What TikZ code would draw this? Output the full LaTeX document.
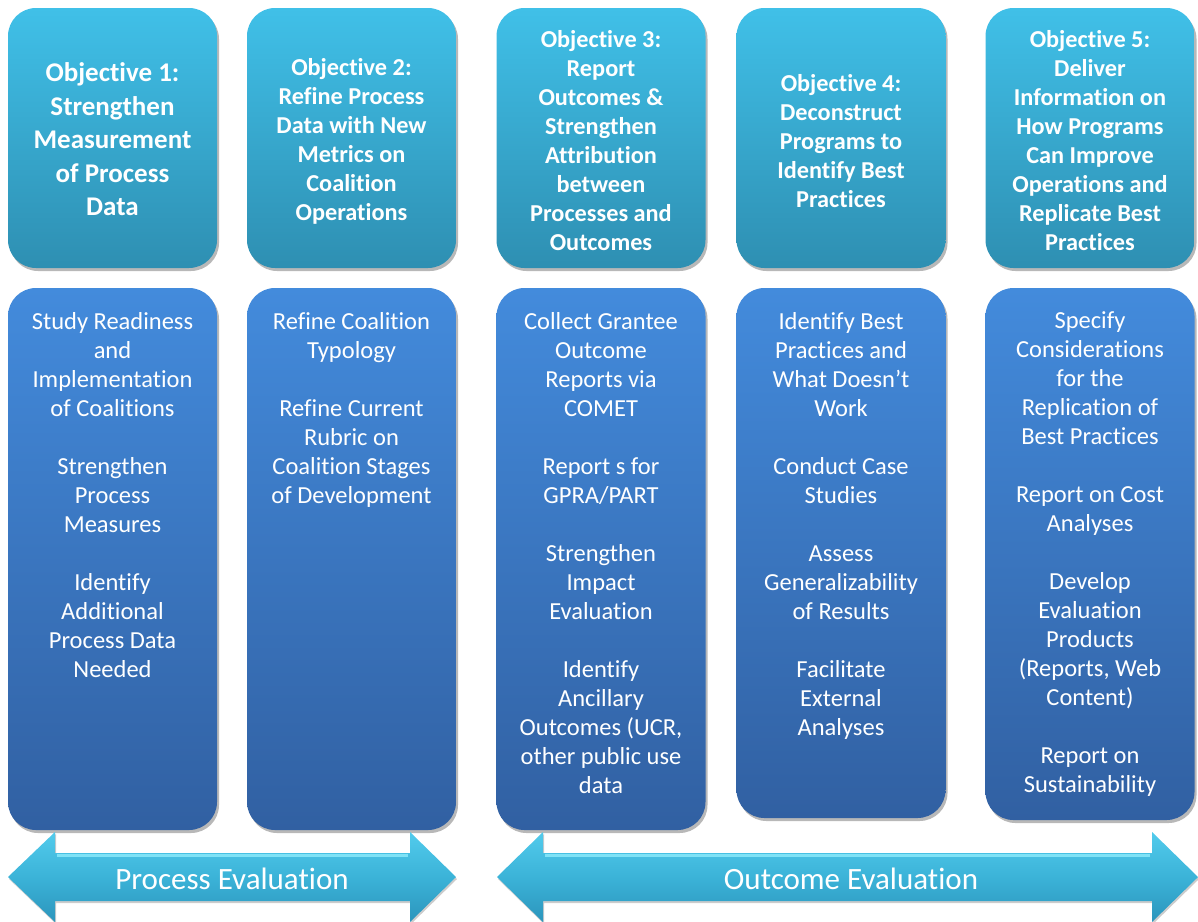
\documentclass[tikz,border=0pt]{standalone}
\usepackage{fontspec}
\setmainfont{Carlito}[Ligatures=NoCommon]
\usetikzlibrary{shadows}

\definecolor{objtop}{HTML}{40C0E8}
\definecolor{objbot}{HTML}{2E8FB2}
\definecolor{acttop}{HTML}{438BDC}
\definecolor{actbot}{HTML}{3160A2}
\definecolor{arrtop}{HTML}{52CBEC}
\definecolor{arrmid}{HTML}{3BB3D8}
\definecolor{arrbot}{HTML}{2C95BC}
\definecolor{arrlite}{HTML}{7FE2F6}

\begin{document}
\begin{tikzpicture}[x=1pt,y=-1pt,
  softshadow/.style={drop shadow={shadow xshift=2pt,shadow yshift=-3pt,opacity=0.28,fill=black}},
  objbox/.style={rectangle,rounded corners=28pt,top color=objtop,bottom color=objbot,
    draw=none,minimum width=209pt,minimum height=260pt,inner sep=0pt,softshadow},
  actbox/.style={rectangle,rounded corners=28pt,top color=acttop,bottom color=actbot,
    draw=none,minimum width=209pt,inner sep=0pt,softshadow},
  objtext/.style={text=white,align=center,inner sep=0pt,
    font=\bfseries\fontsize{24.3}{29}\selectfont},
  bigobjtext/.style={objtext,font=\bfseries\fontsize{27}{33.5}\selectfont},
  acttext/.style={text=white,align=center,inner sep=0pt,anchor=north,
    font=\fontsize{24.5}{29}\selectfont},
  arrowbody/.style={top color=arrtop,bottom color=arrbot,middle color=arrmid,draw=none,
    drop shadow={shadow xshift=1pt,shadow yshift=-2pt,opacity=0.2,fill=black}},
  arrowlabel/.style={text=white,inner sep=0pt,font=\fontsize{31}{37}\selectfont},
]
\useasboundingbox (0,0) rectangle (1198,921);

% objective boxes (top row)
\node[objbox] (o1) at (112.5,138) {};
\node[objbox] (o2) at (351.5,138) {};
\node[objbox] (o3) at (601,138) {};
\node[objbox] (o4) at (841,138) {};
\node[objbox] (o5) at (1090,138) {};

\node[bigobjtext] (ot1) at ([yshift=-1.5pt]o1.center) {Objective 1:\\Strengthen\\Measurement\\of Process\\Data};
\node[objtext] (ot2) at ([yshift=-3pt]o2.center) {Objective 2:\\Refine Process\\Data with New\\Metrics on\\Coalition\\Operations};
\node[objtext] (ot3) at ([yshift=-3pt]o3.center) {Objective 3:\\Report\\Outcomes \&\\Strengthen\\Attribution\\between\\Processes and\\Outcomes};
\node[objtext] (ot4) at ([yshift=-3pt]o4.center) {Objective 4:\\Deconstruct\\Programs to\\Identify Best\\Practices};
\node[objtext] (ot5) at ([yshift=-3pt]o5.center) {Objective 5:\\Deliver\\Information on\\How Programs\\Can Improve\\Operations and\\Replicate Best\\Practices};

% activity boxes (bottom row)
\node[actbox,minimum height=542pt] (a1) at (112.5,559) {};
\node[actbox,minimum height=542pt] (a2) at (351.5,559) {};
\node[actbox,minimum height=542pt] (a3) at (601,559) {};
\node[actbox,minimum height=530pt] (a4) at (841,553) {};
\node[actbox,minimum height=532pt] (a5) at (1090,554) {};

\node[acttext] (at1) at ([yshift=-24pt]a1.north) {Study Readiness\\and\\Implementation\\of Coalitions\\[29pt]Strengthen\\Process\\Measures\\[29pt]Identify\\Additional\\Process Data\\Needed};
\node[acttext] (at2) at ([yshift=-24pt]a2.north) {Refine Coalition\\Typology\\[29pt]Refine Current\\Rubric on\\Coalition Stages\\of Development};
\node[acttext] (at3) at ([yshift=-24pt]a3.north) {Collect Grantee\\Outcome\\Reports via\\COMET\\[29pt]Report s for\\GPRA/PART\\[29pt]Strengthen\\Impact\\Evaluation\\[29pt]Identify\\Ancillary\\Outcomes (UCR,\\other public use\\data};
\node[acttext] (at4) at ([yshift=-24pt]a4.north) {Identify Best\\Practices and\\What Doesn’t\\Work\\[29pt]Conduct Case\\Studies\\[29pt]Assess\\Generalizability\\of Results\\[29pt]Facilitate\\External\\Analyses};
\node[acttext] (at5) at ([yshift=-24pt]a5.north) {Specify\\Considerations\\for the\\Replication of\\Best Practices\\[29pt]Report on Cost\\Analyses\\[29pt]Develop\\Evaluation\\Products\\(Reports, Web\\Content)\\[29pt]Report on\\Sustainability};

% evaluation phase arrows
\path[arrowbody] (8,877) -- (55,832) -- (55,853) -- (410,853) -- (410,832) -- (456,877)
  -- (410,922) -- (410,901) -- (55,901) -- (55,922) -- cycle;
\draw[arrlite,line width=2.5pt] (57,855.5) -- (408,855.5);
\node[arrowlabel] (pe) at (232,879) {Process Evaluation};

\path[arrowbody] (497,877) -- (543,832) -- (543,853) -- (1152,853) -- (1152,832) -- (1198,877)
  -- (1152,922) -- (1152,901) -- (543,901) -- (543,922) -- cycle;
\draw[arrlite,line width=2.5pt] (545,855.5) -- (1150,855.5);
\node[arrowlabel] (oe) at (851,879) {Outcome Evaluation};
\end{tikzpicture}
\end{document}
